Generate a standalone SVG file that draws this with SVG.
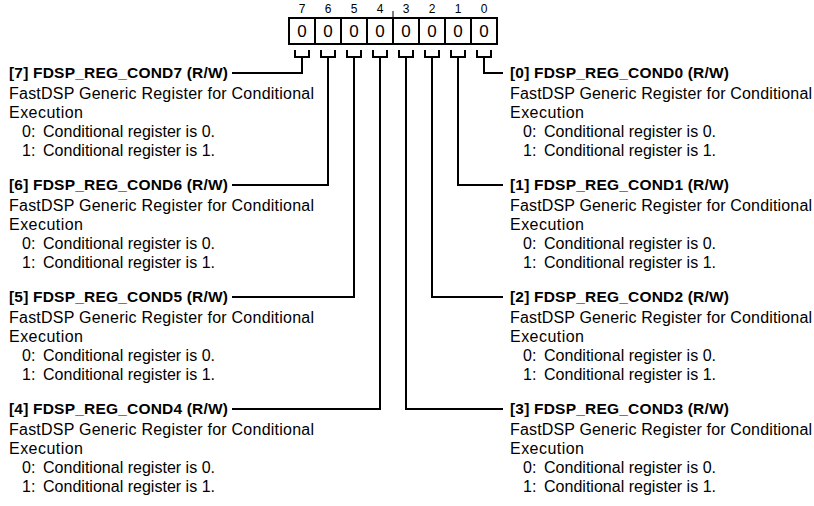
<svg xmlns="http://www.w3.org/2000/svg" width="814" height="506" viewBox="0 0 814 506">
<style>
text{font-family:"Liberation Sans",Arial,sans-serif;fill:#000}
.b{font-size:15.5px;font-weight:bold}
.r{font-size:16px}
.bit{font-size:12px;text-anchor:middle}
.val{font-size:17px;text-anchor:middle}
.ln{fill:none;stroke:#000;stroke-width:2}
</style>
<rect width="814" height="506" fill="#fff"/>
<g id="register">
<text class="bit" x="302" y="13">7</text>
<text class="bit" x="328" y="13">6</text>
<text class="bit" x="354" y="13">5</text>
<text class="bit" x="380" y="13">4</text>
<text class="bit" x="406" y="13">3</text>
<text class="bit" x="432" y="13">2</text>
<text class="bit" x="458" y="13">1</text>
<text class="bit" x="484" y="13">0</text>
<line x1="393" y1="11" x2="393" y2="18" stroke="#000" stroke-width="1"/>
<rect class="ln" x="289" y="18" width="208" height="26"/>
<path class="ln" d="M315 18V44M341 18V44M367 18V44M393 18V44M419 18V44M445 18V44M471 18V44"/>
<text class="val" x="302" y="37">0</text>
<text class="val" x="328" y="37">0</text>
<text class="val" x="354" y="37">0</text>
<text class="val" x="380" y="37">0</text>
<text class="val" x="406" y="37">0</text>
<text class="val" x="432" y="37">0</text>
<text class="val" x="458" y="37">0</text>
<text class="val" x="484" y="37">0</text>
</g>
<g id="connectors">
<path class="ln" d="M295 50V57H309V50M302 57V73H232"/>
<path class="ln" d="M321 50V57H335V50M328 57V185H232"/>
<path class="ln" d="M347 50V57H361V50M354 57V297H232"/>
<path class="ln" d="M373 50V57H387V50M380 57V409H232"/>
<path class="ln" d="M399 50V57H413V50M406 57V409H503"/>
<path class="ln" d="M425 50V57H439V50M432 57V297H503"/>
<path class="ln" d="M451 50V57H465V50M458 57V185H503"/>
<path class="ln" d="M477 50V57H491V50M484 57V73H503"/>
</g>
<g id="field7">
<text class="b" x="9" y="78" textLength="219">[7] FDSP_REG_COND7 (R/W)</text>
<text class="r" x="9" y="99" textLength="305">FastDSP Generic Register for Conditional</text>
<text class="r" x="9" y="118" textLength="74">Execution</text>
<text class="r" x="22" y="137">0:</text><text class="r" x="43" y="137" textLength="172">Conditional register is 0.</text>
<text class="r" x="22" y="156">1:</text><text class="r" x="43" y="156" textLength="172">Conditional register is 1.</text>
</g>
<g id="field6">
<text class="b" x="9" y="190" textLength="219">[6] FDSP_REG_COND6 (R/W)</text>
<text class="r" x="9" y="211" textLength="305">FastDSP Generic Register for Conditional</text>
<text class="r" x="9" y="230" textLength="74">Execution</text>
<text class="r" x="22" y="249">0:</text><text class="r" x="43" y="249" textLength="172">Conditional register is 0.</text>
<text class="r" x="22" y="268">1:</text><text class="r" x="43" y="268" textLength="172">Conditional register is 1.</text>
</g>
<g id="field5">
<text class="b" x="9" y="302" textLength="219">[5] FDSP_REG_COND5 (R/W)</text>
<text class="r" x="9" y="323" textLength="305">FastDSP Generic Register for Conditional</text>
<text class="r" x="9" y="342" textLength="74">Execution</text>
<text class="r" x="22" y="361">0:</text><text class="r" x="43" y="361" textLength="172">Conditional register is 0.</text>
<text class="r" x="22" y="380">1:</text><text class="r" x="43" y="380" textLength="172">Conditional register is 1.</text>
</g>
<g id="field4">
<text class="b" x="9" y="414" textLength="219">[4] FDSP_REG_COND4 (R/W)</text>
<text class="r" x="9" y="435" textLength="305">FastDSP Generic Register for Conditional</text>
<text class="r" x="9" y="454" textLength="74">Execution</text>
<text class="r" x="22" y="473">0:</text><text class="r" x="43" y="473" textLength="172">Conditional register is 0.</text>
<text class="r" x="22" y="492">1:</text><text class="r" x="43" y="492" textLength="172">Conditional register is 1.</text>
</g>
<g id="field0">
<text class="b" x="510" y="78" textLength="219">[0] FDSP_REG_COND0 (R/W)</text>
<text class="r" x="510" y="99" textLength="302">FastDSP Generic Register for Conditional</text>
<text class="r" x="510" y="118" textLength="74">Execution</text>
<text class="r" x="523" y="137">0:</text><text class="r" x="544" y="137" textLength="172">Conditional register is 0.</text>
<text class="r" x="523" y="156">1:</text><text class="r" x="544" y="156" textLength="172">Conditional register is 1.</text>
</g>
<g id="field1">
<text class="b" x="510" y="190" textLength="219">[1] FDSP_REG_COND1 (R/W)</text>
<text class="r" x="510" y="211" textLength="302">FastDSP Generic Register for Conditional</text>
<text class="r" x="510" y="230" textLength="74">Execution</text>
<text class="r" x="523" y="249">0:</text><text class="r" x="544" y="249" textLength="172">Conditional register is 0.</text>
<text class="r" x="523" y="268">1:</text><text class="r" x="544" y="268" textLength="172">Conditional register is 1.</text>
</g>
<g id="field2">
<text class="b" x="510" y="302" textLength="219">[2] FDSP_REG_COND2 (R/W)</text>
<text class="r" x="510" y="323" textLength="302">FastDSP Generic Register for Conditional</text>
<text class="r" x="510" y="342" textLength="74">Execution</text>
<text class="r" x="523" y="361">0:</text><text class="r" x="544" y="361" textLength="172">Conditional register is 0.</text>
<text class="r" x="523" y="380">1:</text><text class="r" x="544" y="380" textLength="172">Conditional register is 1.</text>
</g>
<g id="field3">
<text class="b" x="510" y="414" textLength="219">[3] FDSP_REG_COND3 (R/W)</text>
<text class="r" x="510" y="435" textLength="302">FastDSP Generic Register for Conditional</text>
<text class="r" x="510" y="454" textLength="74">Execution</text>
<text class="r" x="523" y="473">0:</text><text class="r" x="544" y="473" textLength="172">Conditional register is 0.</text>
<text class="r" x="523" y="492">1:</text><text class="r" x="544" y="492" textLength="172">Conditional register is 1.</text>
</g>
</svg>
